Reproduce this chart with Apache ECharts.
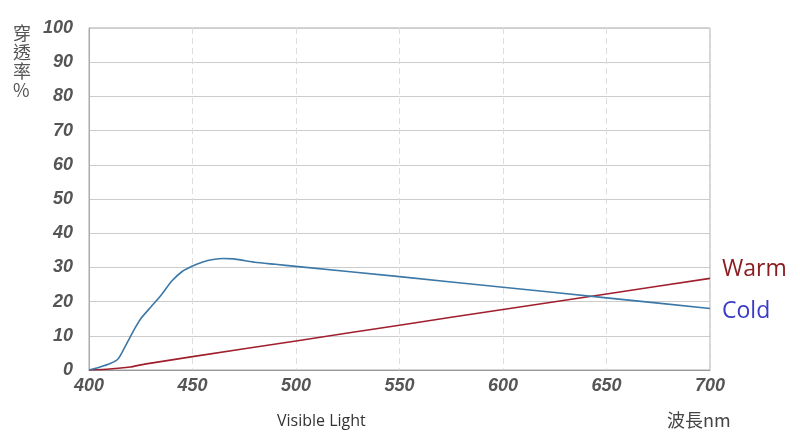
<!DOCTYPE html>
<html><head><meta charset="utf-8">
<script src="https://cdn.jsdelivr.net/npm/echarts@6/dist/echarts.min.js"></script>
<style>html,body{margin:0;padding:0;background:#fff}#c{width:800px;height:441px}</style>
</head><body><div id="c"></div>
<script>
const xTicks = [400, 450, 500, 550, 600, 650, 700];
const yTicks = [0, 10, 20, 30, 40, 50, 60, 70, 80, 90, 100];
const coldWavelengths = [400,405,410,414,418,422,425,430,435,440,445,450,455,460,465,470,475,480,490,500,550,600,650,700];
const coldValues = [0,0.8,1.8,3.2,7.5,12,15,18.5,22,26,28.8,30.4,31.6,32.3,32.6,32.5,32,31.5,30.9,30.3,27.3,24.2,21.1,18.0];
const warmWavelengths = [400,410,420,425,430,450,500,550,600,650,700];
const warmValues = [0,0.3,0.9,1.5,2.0,3.9,8.5,13.1,17.7,22.2,26.8];
const seriesNames = ['Warm', 'Cold'];
const xName = '波長nm';
const yName = '穿透率%';
const xTitle = 'Visible Light';

const chart = echarts.init(document.getElementById('c'), null, {renderer:'canvas'});
const labelFont = {fontFamily:'Liberation Sans, Arial, sans-serif', fontWeight:'bold', fontStyle:'italic', fontSize:18, color:'#555'};
chart.setOption({
  animation:false,
  grid:{left:89, right:90, top:28, bottom:71, show:true, borderColor:'#aaa', borderWidth:1, backgroundColor:'transparent'},
  xAxis:{type:'value', min:xTicks[0], max:xTicks[xTicks.length-1], interval:50,
    axisLine:{show:true, lineStyle:{color:'#999', width:1}}, axisTick:{show:false},
    axisLabel:Object.assign({margin:7}, labelFont),
    splitLine:{show:true, lineStyle:{color:'#ddd', type:[6,4], width:1}}},
  yAxis:{type:'value', min:yTicks[0], max:yTicks[yTicks.length-1], interval:10,
    axisLine:{show:true, lineStyle:{color:'#aaa'}}, axisTick:{show:false},
    axisLabel:Object.assign({margin:16}, labelFont),
    splitLine:{show:true, lineStyle:{color:'#ccc', width:1}}},
  series:[
    {name:seriesNames[0], type:'line', showSymbol:false, smooth:0.2,
      data:warmWavelengths.map((x,i)=>[x,warmValues[i]]),
      lineStyle:{color:'#a01f2d', width:1.6},
      endLabel:{show:true, formatter:'{a}', color:'#8b1c22', fontSize:23, fontFamily:'Open Sans, sans-serif', offset:[4,-9]}},
    {name:seriesNames[1], type:'line', showSymbol:false, smooth:0.2,
      data:coldWavelengths.map((x,i)=>[x,coldValues[i]]),
      lineStyle:{color:'#3b78a8', width:1.6},
      endLabel:{show:true, formatter:'{a}', color:'#3a3ac8', fontSize:23, fontFamily:'Open Sans, sans-serif', offset:[4,3]}}
  ],
  graphic:[
    {type:'text', left:13, top:24, style:{text:yName.split('').join('\n'), fontSize:18, lineHeight:19, fill:'#555', fontFamily:'Noto Sans CJK TC, sans-serif', align:'center'}},
    {type:'text', left:277, top:413, style:{text:xTitle, fontSize:16, fill:'#333', fontFamily:'Open Sans, sans-serif'}},
    {type:'text', left:667, top:411, style:{text:xName, fontSize:18, fill:'#444', fontFamily:'Noto Sans CJK TC, sans-serif'}}
  ]
});
</script></body></html>
